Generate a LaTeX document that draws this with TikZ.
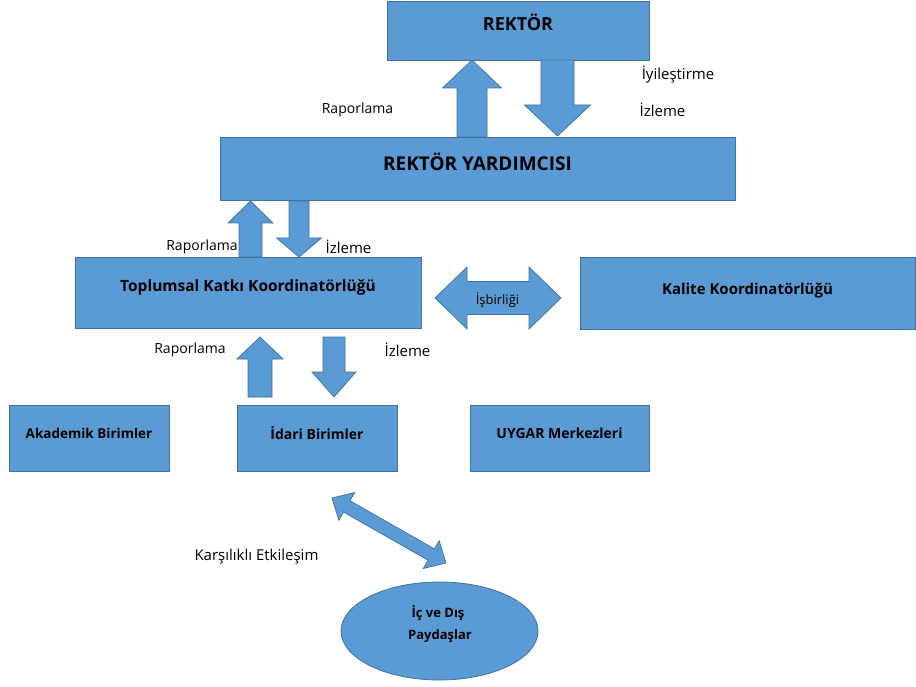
\documentclass[tikz,border=0pt]{standalone}
\usepackage{fontspec}
\setmainfont{Open Sans}
\usetikzlibrary{calc,shapes.geometric}
\definecolor{blu}{HTML}{5B9BD5}
\definecolor{bdr}{HTML}{41719C}
\newcommand\fs[1]{\fontsize{#1}{#1}\selectfont}
\newcommand\blkarrow[5]{%
  \coordinate (ba-b) at ($(#2)!#5!(#1)$);
  \draw[barrow] ($(#1)!#3!90:(#2)$) -- ($(ba-b)!#3!90:(#2)$) -- ($(ba-b)!#4!90:(#2)$) -- (#2)
    -- ($(ba-b)!#4!-90:(#2)$) -- ($(ba-b)!#3!-90:(#2)$) -- ($(#1)!#3!-90:(#2)$) -- cycle;}
\newcommand\dblarrow[5]{%
  \coordinate (da-a) at ($(#1)!#5!(#2)$);
  \coordinate (da-b) at ($(#2)!#5!(#1)$);
  \draw[barrow] (#1) -- ($(da-a)!#4!90:(#2)$) -- ($(da-a)!#3!90:(#2)$) -- ($(da-b)!#3!90:(#2)$)
    -- ($(da-b)!#4!90:(#2)$) -- (#2) -- ($(da-b)!#4!-90:(#2)$) -- ($(da-b)!#3!-90:(#2)$)
    -- ($(da-a)!#3!-90:(#2)$) -- ($(da-a)!#4!-90:(#2)$) -- cycle;}
\tikzset{
  box/.style={draw=bdr, fill=blu, line width=0.8pt, inner sep=0pt},
  btxt/.style={inner sep=0pt, text=black, font=\bfseries\fs{14}},
  lbl/.style={inner sep=0pt, text=black, font=\fs{14}},
  barrow/.style={draw=bdr, fill=blu, line width=0.7pt, line join=miter}
}
\begin{document}
\begin{tikzpicture}[x=1pt,y=-1pt]
\useasboundingbox (0,0) rectangle (916,687);
% boxes
\node[box, minimum width=262pt, minimum height=59pt,
  label={[btxt,font=\bfseries\fs{18},yshift=8pt]center:{REKTÖR}}] (rektor) at (518,30.5) {};
\node[box, minimum width=515pt, minimum height=63pt,
  label={[btxt,font=\bfseries\fs{19},yshift=6.5pt]center:{REKTÖR YARDIMCISI}}] (ry) at (477.5,168.5) {};
\node[box, minimum width=346pt, minimum height=71pt,
  label={[btxt,font=\bfseries\fs{15.5},yshift=5.5pt]center:{Toplumsal Katkı Koordinatörlüğü}}] (tkk) at (248,292.5) {};
\node[box, minimum width=335pt, minimum height=72pt,
  label={[btxt,font=\bfseries\fs{15},yshift=2pt]center:{Kalite Koordinatörlüğü}}] (kalite) at (747.5,293) {};
\node[box, minimum width=160pt, minimum height=66pt,
  label={[btxt,font=\bfseries\fs{13.5},yshift=5pt]center:{Akademik Birimler}}] (akad) at (89,438) {};
\node[box, minimum width=160pt, minimum height=66pt,
  label={[btxt,font=\bfseries\fs{14},yshift=5pt]center:{İdari Birimler}}] (idari) at (317,438) {};
\node[box, minimum width=179pt, minimum height=66pt,
  label={[btxt,font=\bfseries\fs{14},yshift=5pt]center:{UYGAR Merkezleri}}] (uygar) at (559.5,438) {};
\node[box, ellipse, minimum width=197pt, minimum height=98pt] (pay) at (439.5,631) {};
\node[btxt, font=\bfseries\fs{13}] (pay1) at (438,613) {İç ve Dış};
\node[btxt, font=\bfseries\fs{13}] (pay2) at (440,636) {Paydaşlar};
% block arrows
\coordinate (a1t) at (472,137);   \coordinate (a1p) at (472,60);
\coordinate (a2t) at (557.5,60);  \coordinate (a2p) at (557.5,136);
\coordinate (a3t) at (250.5,257); \coordinate (a3p) at (250.5,201);
\coordinate (a4t) at (299,201);   \coordinate (a4p) at (299,257);
\coordinate (a5t) at (260,397);   \coordinate (a5p) at (260,337);
\coordinate (a6t) at (334,337);   \coordinate (a6p) at (334,397);
\blkarrow{a1t}{a1p}{15pt}{29.5pt}{28pt}
\blkarrow{a2t}{a2p}{16.5pt}{33pt}{31pt}
\blkarrow{a3t}{a3p}{11.5pt}{22.5pt}{22pt}
\blkarrow{a4t}{a4p}{10pt}{22.5pt}{19pt}
\blkarrow{a5t}{a5p}{12pt}{23pt}{22pt}
\blkarrow{a6t}{a6p}{11pt}{22pt}{25pt}
\coordinate (ia) at (435,298); \coordinate (ib) at (561,298);
\dblarrow{ia}{ib}{16.5pt}{31pt}{32pt}
\coordinate (ka) at (332,498); \coordinate (kb) at (446,563);
\dblarrow{ka}{kb}{6.5pt}{16pt}{17pt}
% labels
\node[lbl] (l1) at (357.5,110) {Raporlama};
\node[lbl, font=\fs{15}] (l2) at (678,75) {İyileştirme};
\node[lbl, font=\fs{15}] (l3) at (662.5,110) {İzleme};
\node[lbl] (l4) at (202,247) {Raporlama};
\node[lbl, font=\fs{15}] (l5) at (348.5,247) {İzleme};
\node[lbl] (l6) at (190,350) {Raporlama};
\node[lbl, font=\fs{15}] (l7) at (407.5,350) {İzleme};
\node[lbl, font=\fs{13}] (l8) at (497.5,300) {İşbirliği};
\node[lbl, font=\fs{15}] (l9) at (256.5,557) {Karşılıklı Etkileşim};
\end{tikzpicture}
\end{document}
